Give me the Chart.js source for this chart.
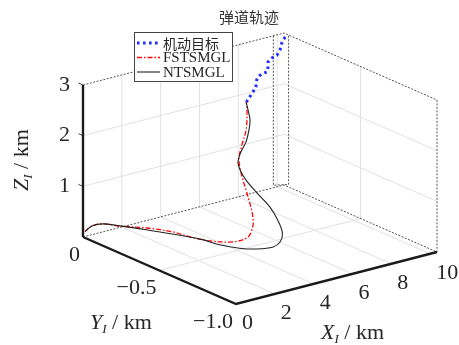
<!DOCTYPE html>
<html><head><meta charset="utf-8">
<script src="https://cdn.jsdelivr.net/npm/chart.js@4.4.1/dist/chart.umd.min.js"></script>
<style>html,body{margin:0;padding:0;background:#fff;}canvas{display:block;}</style>
</head><body>
<canvas id="c" width="459" height="345"></canvas>
<script>
// ---------- data (km) ----------
const titleText = '弹道轨迹';
const seriesNames = ['机动目标', 'FSTSMGL', 'NTSMGL'];

const targetX = [8.25, 8.60, 8.75, 8.75, 8.85, 9.06, 9.32, 9.37, 9.37, 9.57, 9.83, 9.99, 10.04, 10.14, 10.30, 10.35];
const targetY = [-0.02, -0.02, -0.02, -0.02, -0.02, -0.02, -0.02, -0.02, -0.02, -0.02, -0.02, -0.02, -0.02, -0.02, -0.02, -0.02];
const targetZ = [1.87, 2.04, 2.12, 2.22, 2.31, 2.35, 2.36, 2.45, 2.55, 2.61, 2.64, 2.73, 2.82, 2.91, 2.97, 3.00];

const fstX = [0.10, 0.43, 0.86, 1.23, 1.99, 2.54, 2.72, 3.07, 3.64, 4.04, 4.40, 4.80, 5.30, 5.80, 6.30, 6.70, 7.00, 7.20, 7.40, 7.65, 7.90, 8.10, 8.25];
const fstY = [0.00, -0.004, -0.02, -0.079, -0.166, -0.266, -0.354, -0.44, -0.50, -0.51, -0.52, -0.495, -0.44, -0.37, -0.285, -0.215, -0.157, -0.112, -0.08, -0.068, -0.063, -0.044, -0.02];
const fstZ = [0.10, 0.18, 0.20, 0.20, 0.20, 0.20, 0.20, 0.20, 0.20, 0.20, 0.25, 0.32, 0.35, 0.39, 0.48, 0.55, 0.64, 0.80, 0.93, 1.15, 1.41, 1.66, 1.87];

const ntX = [0.10, 0.43, 0.86, 1.26, 1.84, 2.39, 2.89, 3.10, 3.49, 4.00, 4.67, 5.26, 5.62, 6.00, 6.30, 6.60, 6.90, 7.10, 7.30, 7.50, 7.70, 7.90, 8.05, 8.15, 8.25];
const ntY = [0.00, -0.004, -0.02, -0.08, -0.18, -0.29, -0.40, -0.50, -0.58, -0.63, -0.65, -0.62, -0.59, -0.51, -0.42, -0.30, -0.19, -0.125, -0.086, -0.08, -0.088, -0.082, -0.07, -0.044, -0.02];
const ntZ = [0.10, 0.18, 0.20, 0.20, 0.20, 0.20, 0.20, 0.20, 0.20, 0.20, 0.20, 0.20, 0.30, 0.42, 0.53, 0.61, 0.69, 0.79, 0.87, 1.04, 1.23, 1.44, 1.60, 1.76, 1.86];

const xTicks = [0, 2, 4, 6, 8, 10];
const xTickLabels = ['0', '2', '4', '6', '8', '10'];
const yTicks = [0, -0.5, -1.0];
const yTickLabels = ['0', '\u22120.5', '\u22121.0'];
const zTicks = [1, 2, 3];
const zTickLabels = ['1', '2', '3'];
const xRange = [0, 10.35], yRange = [-1, 0], zRange = [0, 3];

// ---------- view (oblique projection of the 3-D box onto the page) ----------
const VIEW = { L: [83, 237], F: [236, 304], R: [437, 252], zTop: 85 };
function proj(X, Y, Z) {
  const fx = (X - xRange[0]) / (xRange[1] - xRange[0]);
  const fy = (yRange[1] - Y) / (yRange[1] - yRange[0]);
  const fz = (Z - zRange[0]) / (zRange[1] - zRange[0]);
  return {
    x: VIEW.L[0] + fy * (VIEW.F[0] - VIEW.L[0]) + fx * (VIEW.R[0] - VIEW.F[0]),
    y: VIEW.L[1] + fy * (VIEW.F[1] - VIEW.L[1]) + fx * (VIEW.R[1] - VIEW.F[1]) - fz * (VIEW.L[1] - VIEW.zTop)
  };
}
function path(xs, ys, zs) { return xs.map((x, i) => proj(x, ys[i], zs[i])); }

const datasets = [];
function seg(pts, style, order) {
  datasets.push(Object.assign({ data: pts.map(p => proj(p[0], p[1], p[2])), showLine: true, pointRadius: 0, fill: false, tension: 0, order: order }, style));
}
const xM = xRange[1], yF = yRange[0], zT = zRange[1];
// grid
const gridStyle = { borderColor: '#e1e1e1', borderWidth: 1 };
[2, 4, 6, 8, 10].forEach(x => { seg([[x, 0, 0], [x, 0, zT]], gridStyle, 9); seg([[x, 0, 0], [x, yF, 0]], gridStyle, 9); });
[1, 2].forEach(z => { seg([[0, 0, z], [xM, 0, z]], gridStyle, 9); seg([[xM, 0, z], [xM, yF, z]], gridStyle, 9); });
seg([[xM, -0.5, 0], [xM, -0.5, zT]], gridStyle, 9);
seg([[0, -0.5, 0], [xM, -0.5, 0]], gridStyle, 9);
// dotted back box
const boxStyle = { borderColor: '#555', borderWidth: 1, borderDash: [2, 1.5] };
seg([[0, 0, zT], [xM, 0, zT], [xM, yF, zT], [xM, yF, 0]], boxStyle, 8);
seg([[0, 0, 0], [xM, 0, 0], [xM, yF, 0]], boxStyle, 8);
seg([[9.8, 0, zT], [9.8, 0, 0.05], [xM, -0.03, 0.05], [xM, -0.03, zT]], boxStyle, 8);
// axes
const axStyle = { borderColor: '#1a1a1a', borderWidth: 2.4 };
seg([[0, 0, 0], [0, 0, zT]], axStyle, 7);
seg([[0, 0, 0], [0, yF, 0], [xM, yF, 0]], axStyle, 7);
// small tick marks on the Z axis
const tickStyle = { borderColor: '#444', borderWidth: 1 };
zTicks.forEach(z => seg([[0, 0, z], [0, 0.03, z]], tickStyle, 7));
// curves
datasets.push({ label: seriesNames[0], data: path(targetX, targetY, targetZ), showLine: true, pointRadius: 0, borderColor: '#1f2fff', borderWidth: 3, borderDash: [2.6, 3.4], tension: 0, order: 2 });
datasets.push({ label: seriesNames[1], data: path(fstX, fstY, fstZ), showLine: true, pointRadius: 0, borderColor: '#ff0000', borderWidth: 1.3, borderDash: [5, 2, 1.5, 2], tension: 0.35, order: 1 });
datasets.push({ label: seriesNames[2], data: path(ntX, ntY, ntZ), showLine: true, pointRadius: 0, borderColor: '#222', borderWidth: 1.1, tension: 0.35, order: 0 });

const SERIF = '"Liberation Serif","Times New Roman",serif';
const CJK = '"Noto Sans CJK SC","Noto Sans",sans-serif';
function rich(ctx, parts, x, y, align) {
  let w = 0;
  parts.forEach(p => { ctx.font = p.font; p.w = ctx.measureText(p.t).width; w += p.w; });
  let cx = align === 'center' ? x - w / 2 : (align === 'right' ? x - w : x);
  parts.forEach(p => { ctx.font = p.font; ctx.fillText(p.t, cx, y + (p.dy || 0)); cx += p.w; });
}

const textPlugin = {
  id: 'text3d',
  afterDraw(chart) {
    const ctx = chart.ctx, sx = chart.scales.x, sy = chart.scales.y;
    const P = (X, Y, Z) => { const p = proj(X, Y, Z); return [sx.getPixelForValue(p.x), sy.getPixelForValue(p.y)]; };
    ctx.save();
    ctx.fillStyle = '#262626';
    ctx.textBaseline = 'middle';
    ctx.font = '22px ' + SERIF;
    ctx.textAlign = 'right';
    zTicks.forEach((z, i) => { const p = P(0, 0, z); ctx.fillText(zTickLabels[i], p[0] - 13, p[1]); });
    yTicks.forEach((y, i) => { const p = P(0, y, 0); ctx.fillText(yTickLabels[i], p[0] - 3, p[1] + 18); });
    ctx.textAlign = 'left';
    xTicks.forEach((x, i) => { const p = P(x, yF, 0); ctx.fillText(xTickLabels[i], p[0] + 6, p[1] + 19); });
    ctx.textBaseline = 'alphabetic';
    const lab = (v) => [{ t: v, font: 'italic 22px ' + SERIF }, { t: 'I', font: 'italic 13px ' + SERIF, dy: 4 }, { t: ' / km', font: '22px ' + SERIF }];
    rich(ctx, lab('X'), 321, 339, 'left');
    rich(ctx, lab('Y'), 90, 329, 'left');
    ctx.save(); ctx.translate(28, 191); ctx.rotate(-Math.PI / 2);
    rich(ctx, lab('Z'), 0, 0, 'left');
    ctx.restore();
    // title
    ctx.fillStyle = '#333';
    ctx.textAlign = 'center'; ctx.textBaseline = 'middle';
    ctx.font = '15px ' + CJK;
    ctx.fillText(titleText, 249, 17);
    // legend
    const bx = 134, by = 32, bw = 98, bh = 49;
    ctx.fillStyle = '#fff'; ctx.fillRect(bx, by, bw, bh);
    ctx.strokeStyle = '#444'; ctx.lineWidth = 1; ctx.setLineDash([]);
    ctx.strokeRect(bx + 0.5, by + 0.5, bw, bh);
    const rows = [43, 57.5, 72];
    const ds = chart.data.datasets.filter(d => d.label);
    ds.forEach((d, i) => {
      ctx.strokeStyle = d.borderColor; ctx.lineWidth = i === 1 ? 1.5 : d.borderWidth; ctx.setLineDash(d.borderDash || []);
      ctx.beginPath(); ctx.moveTo(137, rows[i]); ctx.lineTo(160, rows[i]); ctx.stroke();
      ctx.setLineDash([]);
      ctx.fillStyle = '#262626'; ctx.textAlign = 'left'; ctx.textBaseline = 'middle';
      ctx.font = (i === 0 ? '14px ' + CJK : '15px ' + SERIF);
      ctx.fillText(d.label, 163, rows[i] + 1);
    });
    ctx.restore();
  }
};

new Chart(document.getElementById('c'), {
  type: 'scatter',
  data: { datasets },
  options: {
    responsive: false, animation: false, devicePixelRatio: 1,
    layout: { padding: 0 },
    scales: {
      x: { type: 'linear', min: 0, max: 459, display: false },
      y: { type: 'linear', min: 0, max: 345, reverse: true, display: false }
    },
    plugins: { legend: { display: false }, tooltip: { enabled: false }, title: { display: false } }
  },
  plugins: [textPlugin]
});
</script>
</body></html>
